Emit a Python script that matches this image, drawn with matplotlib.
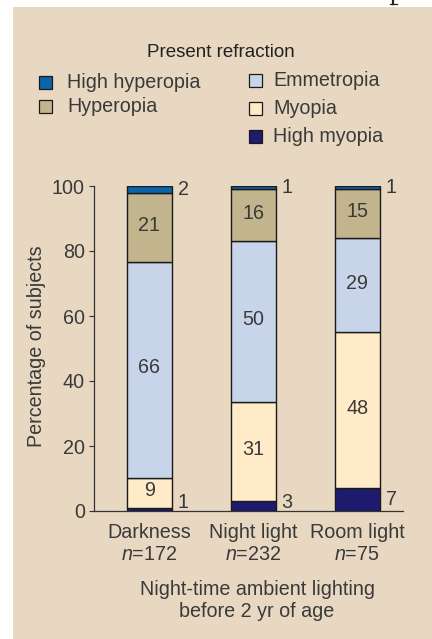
import matplotlib
matplotlib.use("Agg")
import matplotlib.pyplot as plt
from matplotlib.patches import Rectangle
from matplotlib.lines import Line2D
import numpy as np

plt.rcParams['font.family'] = ['Liberation Sans', 'DejaVu Sans']
plt.rcParams['mathtext.fontset'] = 'custom'
plt.rcParams['mathtext.rm'] = 'Liberation Sans'
plt.rcParams['mathtext.it'] = 'Liberation Sans:italic'

# data
groups = ['Darkness', 'Night light', 'Room light']
group_n = [172, 232, 75]
categories = ['High myopia', 'Myopia', 'Emmetropia', 'Hyperopia', 'High hyperopia']
high_myopia = [1, 3, 7]
myopia = [9, 31, 48]
emmetropia = [66, 50, 29]
hyperopia = [21, 16, 15]
high_hyperopia = [2, 1, 1]

colors = ['#1e1a6e', '#ffebc8', '#c8d4ea', '#c2b48c', '#0a64aa']
bg = '#e8d8c2'
txt = '#3a3a3a'
fs = 14.2

series = np.array([high_myopia, myopia, emmetropia, hyperopia, high_hyperopia], dtype=float)
# bars are drawn to a full 100 %
heights = series / series.sum(axis=0) * 100

W, H = 432, 639
fig = plt.figure(figsize=(W / 100, H / 100), dpi=100)
fig.patch.set_facecolor('white')
fig.patches.append(Rectangle((13 / W, 0), 1 - 13 / W, 1 - 7 / H,
                             transform=fig.transFigure, facecolor=bg,
                             edgecolor='none', zorder=-10))
# descender of a letter cut off from the page above
fig.lines.append(Line2D([393 / W, 393 / W], [1.0, 1 - 4 / H], transform=fig.transFigure,
                        color='#222222', linewidth=1.6, zorder=-5))
fig.lines.append(Line2D([390 / W, 396.5 / W], [1 - 4 / H, 1 - 4 / H], transform=fig.transFigure,
                        color='#222222', linewidth=0.9, zorder=-5))

ax = fig.add_axes([94 / W, 1 - 511 / H, 309 / W, 325 / H])
ax.set_facecolor('none')

x = np.arange(len(groups))
bw = 0.435
bottom = np.zeros(len(groups))
for i, cat in enumerate(categories):
    ax.bar(x, heights[i], bw, bottom=bottom, color=colors[i],
           edgecolor='#1a1a1a', linewidth=1.0, zorder=3)
    for j in range(len(groups)):
        val = int(series[i, j])
        mid = bottom[j] + heights[i, j] / 2
        if i == 0:
            ax.text(x[j] + bw / 2 + 0.055, max(mid, 2.7), str(val), ha='left',
                    va='center', fontsize=fs, color=txt)
        elif i == len(categories) - 1:
            ax.text(x[j] + bw / 2 + 0.055, mid, str(val), ha='left',
                    va='center', fontsize=fs, color=txt)
        else:
            ax.text(x[j], mid + 0.6, str(val), ha='center', va='center',
                    fontsize=fs, color=txt)
    bottom += heights[i]

ax.set_xlim(-0.534, 2.44)
ax.set_ylim(0, 100)
ax.set_yticks([0, 20, 40, 60, 80, 100])
ax.set_xticks(x)
ax.set_xticklabels([f'{g}\n$n$={n}' for g, n in zip(groups, group_n)],
                   fontsize=fs, color=txt, linespacing=1.2)
ax.tick_params(axis='x', length=0, pad=9)
ax.tick_params(axis='y', length=3.5, width=0.8, color='#333333', pad=3,
               labelsize=fs, labelcolor=txt)
for s in ['top', 'right']:
    ax.spines[s].set_visible(False)
for s in ['left', 'bottom']:
    ax.spines[s].set_color('#333333')
    ax.spines[s].set_linewidth(0.9)

fig.text(37 / W, 1 - 346 / H, 'Percentage of subjects', rotation=90,
         ha='center', va='center', fontsize=fs, color=txt)
fig.text(257 / W, 1 - 595 / H, 'Night-time ambient lighting', ha='center',
         va='baseline', fontsize=fs, color=txt)
fig.text(257 / W, 1 - 617 / H, 'before 2 yr of age', ha='center',
         va='baseline', fontsize=fs, color=txt)

# legend
fig.text(221 / W, 1 - 57 / H, 'Present refraction', ha='center', va='baseline',
         fontsize=13.5, color='#222222')
legend_pos = {
    'High hyperopia': (45, 82, 67),
    'Hyperopia': (45, 106, 67),
    'Emmetropia': (255, 80, 273),
    'Myopia': (255, 108, 273),
    'High myopia': (255, 136, 273),
}
sq = 13
for cat, (cx, cy, tx) in legend_pos.items():
    c = colors[categories.index(cat)]
    fig.patches.append(Rectangle(((cx - sq / 2) / W, 1 - (cy + sq / 2) / H),
                                 sq / W, sq / H, transform=fig.transFigure,
                                 facecolor=c, edgecolor='#1a1a1a',
                                 linewidth=0.9, zorder=2))
    fig.text(tx / W, 1 - (cy + 6.5) / H, cat, ha='left', va='baseline',
             fontsize=fs, color=txt)

fig.savefig('out.png', dpi=100, facecolor=fig.get_facecolor())
